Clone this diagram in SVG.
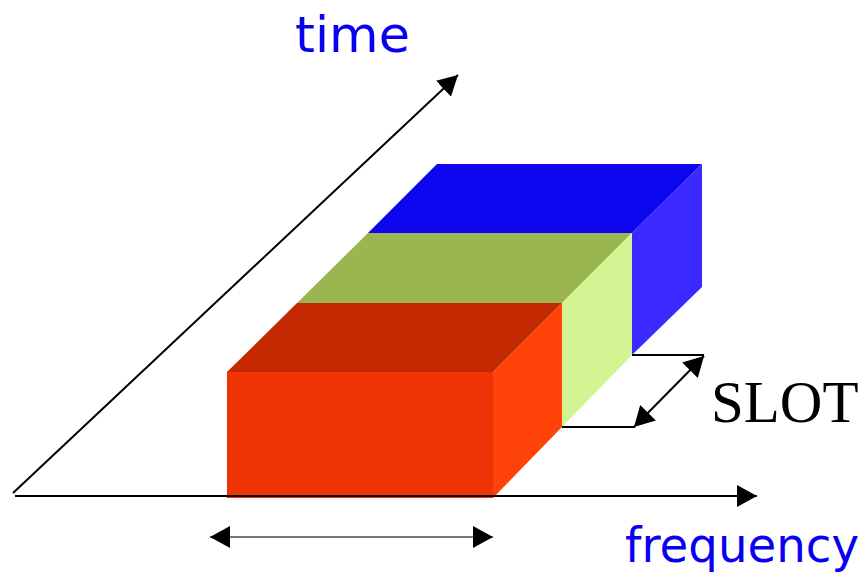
<svg xmlns="http://www.w3.org/2000/svg" width="865" height="578" viewBox="0 0 865 578">
<defs>
<style>
.ax{stroke:#000;stroke-width:2;fill:none}
.gr{stroke:#777;stroke-width:2;fill:none}
.lbl{font-family:"DejaVu Sans",Verdana,sans-serif;fill:#0a00f0}
.slot{font-family:"Liberation Serif","Times New Roman",serif;fill:#000}
</style>
<marker id="ah" viewBox="0 0 20 22" refX="20" refY="11" markerWidth="20" markerHeight="22" markerUnits="userSpaceOnUse" orient="auto-start-reverse">
<path d="M0,0 L20,11 L0,22 Z" fill="#000"/>
</marker>
</defs>
<rect width="865" height="578" fill="#fff"/>
<g id="blue-block">
<polygon points="368,233 437,164 702,164 632,233" fill="#0d06ef"/>
<polygon points="632,233 702,164 702,287 632,355" fill="#3a2aff"/>
</g>
<g id="green-block">
<polygon points="297,303 368,233 632,233 562,303" fill="#9ab650"/>
<polygon points="562,303 632,233 632,355 562,427" fill="#d4f494"/>
</g>
<g id="red-block">
<polygon points="227,372 297,303 562,303 493,372" fill="#c42800"/>
<polygon points="493,372 562,303 562,427 493,498" fill="#ff4208"/>
<rect x="227" y="372" width="266" height="126" fill="#f03304"/>
</g>
<g id="connectors">
<line class="ax" x1="13" y1="493" x2="458" y2="75" marker-end="url(#ah)"/>
<line class="ax" x1="15" y1="496" x2="757" y2="496" marker-end="url(#ah)"/>
<line class="gr" x1="210" y1="537" x2="493" y2="537" marker-start="url(#ah)" marker-end="url(#ah)"/>
<polyline class="ax" points="632,355 704,355"/>
<polyline class="ax" points="562,427 635,427"/>
<line class="ax" x1="634" y1="427" x2="704" y2="356" marker-start="url(#ah)" marker-end="url(#ah)"/>
</g>
<text class="lbl" x="295" y="52" font-size="50" textLength="115" lengthAdjust="spacingAndGlyphs">time</text>
<text class="lbl" x="625" y="562" font-size="48" textLength="234" lengthAdjust="spacingAndGlyphs">frequency</text>
<text class="slot" x="711" y="422" font-size="59">SLOT</text>
</svg>
